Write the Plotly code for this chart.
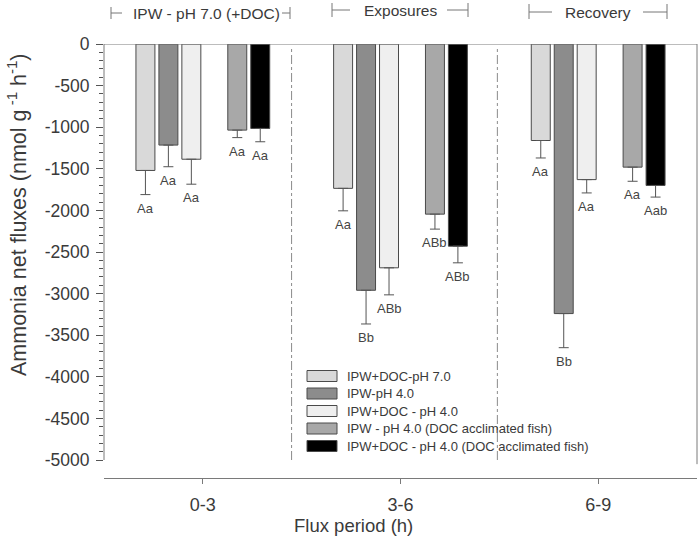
import plotly.graph_objects as go

# ---------------- data ----------------
periods = ["0-3", "3-6", "6-9"]
series_names = [
    "IPW+DOC-pH 7.0",
    "IPW-pH 4.0",
    "IPW+DOC - pH 4.0",
    "IPW - pH 4.0 (DOC acclimated fish)",
    "IPW+DOC - pH 4.0 (DOC acclimated fish)",
]
s1_vals = [-1520, -1735, -1160]
s2_vals = [-1215, -2960, -3240]
s3_vals = [-1385, -2690, -1630]
s4_vals = [-1035, -2045, -1480]
s5_vals = [-1015, -2430, -1700]
s1_err = [290, 270, 210]
s2_err = [260, 405, 410]
s3_err = [300, 325, 160]
s4_err = [90, 180, 170]
s5_err = [160, 200, 140]
s1_lab = ["Aa", "Aa", "Aa"]
s2_lab = ["Aa", "Bb", "Bb"]
s3_lab = ["Aa", "ABb", "Aa"]
s4_lab = ["Aa", "ABb", "Aa"]
s5_lab = ["Aa", "ABb", "Aab"]
headers = ["IPW - pH 7.0 (+DOC)", "Exposures", "Recovery"]
y_ticks = list(range(-5000, 1, 500))

# ---------------- styling ----------------
colors = ["#d9d9d9", "#8c8c8c", "#efefef", "#a8a8a8", "#000000"]
slots = [0, 1, 2, 4, 5]
slot_w = 23 / 198.0
bar_w = 19 / 198.0
FONT = "Liberation Sans, Arial, sans-serif"
TXT = "#3a3a3a"
AX = "#7a7a7a"

W, H = 700, 552
# plot-area edges in page pixels
L, R, T, B = 104, 697, 44, 478


def px(xp):
    return (xp - L) / (R - L)


def py(yp):
    return (B - yp) / (B - T)


vals = [s1_vals, s2_vals, s3_vals, s4_vals, s5_vals]
errs = [s1_err, s2_err, s3_err, s4_err, s5_err]
labs = [s1_lab, s2_lab, s3_lab, s4_lab, s5_lab]

fig = go.Figure()
annotations = []
for i in range(5):
    off = (slots[i] - 2.5) * slot_w
    xs = [g + off for g in range(len(periods))]
    fig.add_trace(go.Bar(
        x=xs, y=vals[i], width=bar_w, name=series_names[i],
        marker=dict(color=colors[i], line=dict(color="#4a4a4a", width=1)),
        error_y=dict(type="data", symmetric=False, array=[0] * len(periods),
                     arrayminus=errs[i], color="#555555", thickness=1, width=5),
        showlegend=False, hoverinfo="skip",
    ))
    for g in range(len(periods)):
        annotations.append(dict(
            x=xs[g], y=vals[i][g] - errs[i][g], xref="x", yref="y",
            text=labs[i][g], showarrow=False, yanchor="top", yshift=-4,
            font=dict(size=13, color="#444444", family=FONT),
        ))

shapes = []
# y axis line
shapes.append(dict(type="line", xref="paper", yref="y", x0=0, x1=0, y0=-5000, y1=0,
                   line=dict(color=AX, width=1)))
# top frame line and right frame line
shapes.append(dict(type="line", xref="paper", yref="y", x0=0, x1=1, y0=0, y1=0,
                   line=dict(color=AX, width=1)))
shapes.append(dict(type="line", xref="paper", yref="y", x0=1, x1=1, y0=-5050, y1=0,
                   line=dict(color=AX, width=1)))
# dash-dot separators
for xv in [0.449, 1.49]:
    shapes.append(dict(type="line", xref="x", yref="y", x0=xv, x1=xv, y0=-5000, y1=-30,
                       line=dict(color="#8a8a8a", width=1, dash="dashdot")))

# header brackets
hdr = [
    (111, 122, 282, 290, 206, 13, 7, 19),
    (332, 350, 447, 468, 400, 10, 3, 17),
    (529, 552, 643, 667, 597.5, 12, 4, 19),
]
for k, (xl, xl2, xr2, xr, xc, yc, yt, yb) in enumerate(hdr):
    for x0, x1 in [(xl, xl2), (xr2, xr)]:
        shapes.append(dict(type="line", xref="paper", yref="paper",
                           x0=px(x0), x1=px(x1), y0=py(yc), y1=py(yc),
                           line=dict(color="#777777", width=1)))
    for xv in [xl, xr]:
        shapes.append(dict(type="line", xref="paper", yref="paper",
                           x0=px(xv), x1=px(xv), y0=py(yt), y1=py(yb),
                           line=dict(color="#777777", width=1)))
    annotations.append(dict(x=px(xc), y=py(yc), xref="paper", yref="paper",
                            text=headers[k], showarrow=False,
                            xanchor="center", yanchor="middle",
                            font=dict(size=15.5, color=TXT, family=FONT)))

# manual legend
row_y = [376, 393.5, 411, 428.5, 446]
for i in range(5):
    shapes.append(dict(type="rect", xref="paper", yref="paper",
                       x0=px(307), x1=px(337), y0=py(row_y[i] + 5.5), y1=py(row_y[i] - 5.5),
                       fillcolor=colors[i], line=dict(color="#4a4a4a", width=1)))
    annotations.append(dict(x=px(345), y=py(row_y[i]), xref="paper", yref="paper",
                            text=series_names[i], showarrow=False,
                            xanchor="left", yanchor="middle",
                            font=dict(size=13, color=TXT, family=FONT)))

# axis titles
annotations.append(dict(x=px(17), y=py(215), xref="paper", yref="paper",
                        text="Ammonia net fluxes (nmol g<sup> -1</sup> h<sup>-1</sup>)",
                        textangle=-90, showarrow=False, xanchor="center", yanchor="middle",
                        font=dict(size=21.5, color=TXT, family=FONT)))
annotations.append(dict(x=px(353), y=py(525), xref="paper", yref="paper",
                        text="Flux period (h)", showarrow=False,
                        xanchor="center", yanchor="middle",
                        font=dict(size=18.5, color=TXT, family=FONT)))

ymin = -5000 - (B - 460) / ((460 - T) / 5000.0)
minor_vals = [v for v in range(-4900, 0, 100) if v % 500 != 0]

fig.update_layout(
    width=W, height=H,
    margin=dict(l=L, r=W - R, t=T, b=H - B, pad=0),
    paper_bgcolor="white", plot_bgcolor="white",
    barmode="overlay",
    font=dict(family=FONT, color=TXT),
    xaxis=dict(range=[-0.5, 2.5], tickmode="array", tickvals=list(range(len(periods))),
               ticktext=periods, showline=True, linecolor=AX, linewidth=1,
               ticks="outside", ticklen=5, tickcolor=AX, showgrid=False, zeroline=False,
               tickfont=dict(size=18, color=TXT, family=FONT), ticklabelstandoff=5),
    yaxis=dict(range=[ymin, 0], tickmode="array", tickvals=y_ticks,
               ticktext=[str(v) for v in y_ticks], showline=False,
               ticks="outside", ticklen=7, tickcolor="#555555", showgrid=False, zeroline=False,
               minor=dict(tickmode="array", tickvals=minor_vals, ticks="outside",
                          ticklen=4, tickcolor="#555555", showgrid=False),
               tickfont=dict(size=17.5, color=TXT, family=FONT), ticklabelstandoff=3),
    shapes=shapes,
    annotations=annotations,
)

fig.write_html(
    "out.html",
    config={"displayModeBar": False},
    post_script="document.body.style.margin='0px';document.body.style.padding='0px';",
)
